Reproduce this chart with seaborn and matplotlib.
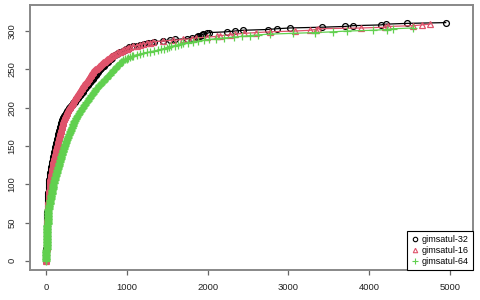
import numpy as np
import pandas as pd
import seaborn as sns
import matplotlib
matplotlib.use('Agg')
import matplotlib.pyplot as plt
from matplotlib.lines import Line2D

# sorted solve times (seconds) per configuration
t32 = [0, 0, 0, 0, 0, 1, 1, 1, 1, 1, 1, 1, 2, 2, 2, 2, 2, 3, 3, 3, 3, 3, 4, 4,
       4, 4, 5, 5, 5, 5, 5, 6, 6, 6, 6, 6, 7, 7, 7, 7, 7, 8, 8, 8, 8, 9, 9, 9, 9, 10, 10,
       10, 11, 11, 11, 12, 12, 12, 12, 13, 13, 13, 14, 14, 14, 15, 15,
       16, 16, 17, 17, 18, 18, 19, 19, 20, 20, 21, 21, 22, 22,
       23, 23, 24, 24, 25, 25, 26, 27, 27, 28, 28, 29, 30, 30, 31, 31, 32, 33, 33, 34, 34, 35, 36, 36, 37,
       38, 40, 41, 43, 44, 46, 47, 49, 50, 52, 54, 55, 57, 59, 60, 62, 64, 66, 67, 69, 71, 72, 74, 76, 77, 79,
       81, 83, 85, 87, 89, 91, 93, 95, 97, 99, 101, 103, 105, 107, 109, 111, 113, 115, 117, 119, 121, 123,
       125, 127, 129, 132, 135,
       137, 140, 142, 144, 147, 149, 151, 154, 156, 158, 161, 163, 165, 168, 170, 172, 175, 177, 179, 182,
       184, 186, 189, 191, 193, 195,
       201, 207, 213, 219, 225, 231, 237, 243, 249, 255, 261, 267, 273, 279, 285, 290,
       297, 305, 313, 320, 328, 336, 343, 351, 359, 367, 374, 382, 390, 397, 405, 413, 420, 428, 436, 444,
       451, 455, 460,
       467, 475, 482, 490, 497, 505, 512, 520, 528, 535, 543, 550, 558, 566, 573, 581, 588, 596, 604, 611,
       619, 626, 634, 641, 646, 650,
       660, 670, 680, 690, 700, 710, 720, 730, 740, 750, 760, 770, 780, 790, 800, 810, 818, 824, 830,
       850, 870, 890, 910, 930, 950, 970, 990, 1010, 1020, 1030,
       1075, 1120, 1165, 1210, 1255, 1295, 1330,
       1450, 1533, 1595,
       1740, 1800, 1864, 1880, 1905, 1926, 1946, 1995,
       2020, 2235, 2338, 2437, 2742, 2858, 3015, 3416, 3700, 3795, 4147, 4210, 4470, 4950]

t16 = [0, 0, 0, 0, 0, 1, 1, 1, 1, 1, 1, 2, 2, 2, 2, 2, 2, 3, 3, 3, 3, 3, 4, 4,
       4, 5, 5, 5, 5, 6, 6, 6, 6, 7, 7, 7, 7, 8, 8, 8, 9, 9, 9, 10, 10, 10, 11, 11, 11, 12, 12,
       12, 13, 13, 13, 14, 14, 15, 15, 15, 16, 16, 16, 17, 17, 18, 18,
       19, 19, 20, 21, 22, 22, 23, 24, 24, 25, 26, 26, 27, 28,
       29, 29, 30, 31, 32, 32, 33, 34, 35, 35, 36, 37, 38, 38, 39, 40, 41, 41, 42, 43, 44, 44, 45, 46, 46,
       48, 49, 51, 52, 54, 55, 57, 59, 60, 62, 63, 65, 67, 68, 70, 71, 73, 75, 76, 78, 79, 81, 83, 84, 86, 87,
       89, 92, 94, 96, 99, 101, 103, 106, 108, 110, 113, 115, 117, 119, 122, 124, 126, 129, 131, 133, 136,
       138, 140, 143, 145, 147, 149,
       151, 154, 156, 158, 161, 163, 166, 168, 170, 173, 175, 178, 180, 182, 185, 187, 190, 192, 194, 197,
       199, 202, 204, 206, 209, 211,
       215, 219, 224, 228, 233, 237, 242, 246, 251, 255, 260, 262, 265,
       271, 277, 283, 289, 295, 301, 307, 313, 319, 325, 331, 337, 343, 349, 355, 361, 367, 373, 379, 385,
       391, 397, 403, 409, 415, 420,
       427, 434, 440, 447, 453, 460, 466, 473, 479, 486, 492, 499, 505, 512, 518, 525, 531, 538, 544, 551,
       557, 564, 570, 577, 583, 590,
       601, 613, 624, 636, 647, 659, 670, 682, 693, 705, 716, 728, 739, 751, 762, 774, 785, 798, 810,
       831, 851, 872, 893, 913, 934, 955, 975, 996, 1016, 1037,
       1078, 1120, 1161, 1202, 1243, 1284, 1325,
       1450, 1574, 1700, 1800, 1855, 1988, 2111, 2152, 2276, 2338, 2450, 2600, 2767, 3082, 3268, 3340,
       3370, 3903, 4200, 4240, 4544, 4650, 4755]

t64 = [0, 0, 0, 0, 0, 1, 1, 1, 1, 1, 2, 2, 2, 2, 2, 3, 3, 3, 3, 4, 4, 4, 5, 5,
       5, 6, 6, 6, 7, 7, 7, 8, 8, 8, 9, 9, 9, 10, 10, 11, 11, 11, 12, 12, 13, 13, 14, 14, 15, 15, 16, 16,
       17, 17, 18, 18, 19, 19, 20, 20, 21, 21, 22, 23, 23, 24, 25,
       27, 29, 31, 33, 35, 36, 38, 40, 42, 44, 46, 48, 50, 51, 53, 55, 57, 59, 61, 63, 65, 66, 68, 70,
       72, 74, 76, 78, 80, 81, 83, 85, 87, 89, 91, 93, 95, 97, 100,
       103, 105, 108, 111, 114, 116, 119, 122, 125, 127, 130, 133, 136, 138, 141, 144, 147, 149, 152, 155,
       158, 160, 163, 166, 168, 170,
       173, 176, 179, 182, 185, 188, 191, 194, 197, 200, 203, 206, 209, 212, 215, 218, 221, 224, 227, 230,
       234, 237, 240, 243, 246, 250, 253,
       257, 261, 265, 269, 273, 277, 281, 285, 289, 293, 297, 301, 305, 309, 313, 317, 321, 325, 329, 333,
       337, 341, 345, 349, 352, 356,
       362, 368, 374, 380, 386, 392, 398, 404, 410, 415, 421, 427, 433, 439, 444, 450,
       457, 464, 471, 477, 484, 491, 498, 505, 512, 518, 525, 532, 539, 546, 552, 559, 566, 573, 580, 587,
       593, 598, 603,
       612, 621, 630, 639, 648, 657, 666, 675, 684, 693, 702, 711, 720, 730, 739, 748, 757, 766, 775, 784,
       793, 802, 811, 820, 825, 830,
       840, 849, 859, 868, 878, 888, 897, 907, 916, 926, 936, 945, 955,
       975, 996, 1016, 1037, 1057, 1078,
       1120, 1160, 1200, 1245, 1285, 1335, 1385,
       1420, 1455, 1490, 1520, 1550, 1590, 1630, 1665, 1700, 1760, 1820, 1885, 1950, 2020, 2100, 2200,
       2320, 2420, 2520, 2627, 2772, 3061, 3330, 3557, 3722, 4052, 4218, 4295, 4548]

names = ['gimsatul-32', 'gimsatul-16', 'gimsatul-64']
colors = ['black', '#DF536B', '#61D04F']
markers = ['o', '^', '+']
x_ticks = [0, 1000, 2000, 3000, 4000, 5000]
y_ticks = [0, 50, 100, 150, 200, 250, 300]

frames = []
for name, t in zip(names, [t32, t16, t64]):
    frames.append(pd.DataFrame({'time': t, 'solved': np.arange(len(t)), 'solver': name}))
df = pd.concat(frames, ignore_index=True)

plt.rcParams['font.family'] = ['Liberation Sans', 'DejaVu Sans']

fig = plt.figure(figsize=(4.8, 3.0), dpi=100)
ax = fig.add_axes([30 / 480, 30 / 300, 443 / 480, 265 / 300])

for name, c, m in zip(names, colors, markers):
    sub = df[df['solver'] == name]
    sns.lineplot(data=sub, x='time', y='solved', estimator=None, sort=False,
                 color=c, marker=m, markersize=4.2 if m != '+' else 5.5,
                 markerfacecolor='none', markeredgecolor=c, markeredgewidth=0.9,
                 linewidth=0.9, ax=ax, legend=False)

ax.set_xlim(-202, 5288)
ax.set_ylim(-12, 334)
ax.set_xticks(x_ticks)
ax.set_yticks(y_ticks)
ax.set_xlabel('')
ax.set_ylabel('')
for lab in ax.get_yticklabels():
    lab.set_rotation(90)
    lab.set_va('center')
ax.tick_params(axis='both', direction='out', length=3.6, width=0.9, color='#666666',
               labelsize=6.8, labelcolor='#222222', pad=6)
for s in ax.spines.values():
    s.set_color('#888888')
    s.set_linewidth(1.4)

handles = [Line2D([], [], linestyle='none', marker=m, color=c, markerfacecolor='none',
                  markeredgewidth=0.8, markersize=3.2 if m != '+' else 4.5)
           for c, m in zip(colors, markers)]
leg = ax.legend(handles, names, loc='lower right', borderaxespad=0, fancybox=False,
                framealpha=1, edgecolor='black', fontsize=6.5, handlelength=0.8,
                handletextpad=0.4, labelspacing=0.2, borderpad=0.45)
leg.get_frame().set_linewidth(0.8)

fig.savefig('out.png', dpi=100)
